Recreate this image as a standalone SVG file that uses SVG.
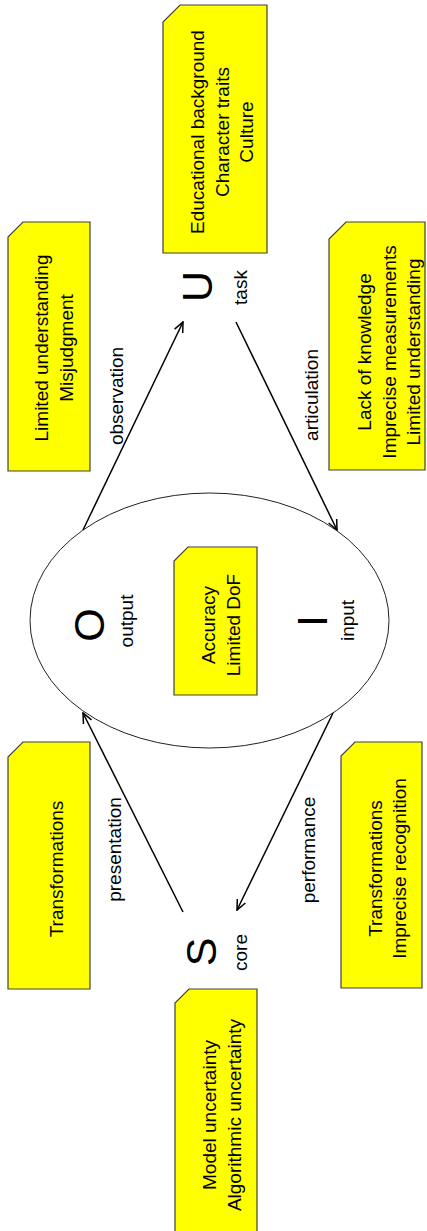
<svg xmlns="http://www.w3.org/2000/svg" width="427" height="1231" viewBox="0 0 427 1231">
  <defs>
    <style>
      .box { fill: #ffff00; stroke: #404040; stroke-width: 1.2; }
      .t { font-family: "Liberation Sans", Arial, sans-serif; font-size: 19px; fill: #000; text-anchor: middle; }
      .big { font-family: "Liberation Sans", Arial, sans-serif; font-size: 43px; fill: #000; text-anchor: middle; }
      .edge { fill: none; stroke: #000; stroke-width: 1.5; }
      .ring { fill: #fff; stroke: #222; stroke-width: 1; }
    </style>
    <marker id="arrow" viewBox="0 0 12 12" refX="11" refY="6" markerWidth="12" markerHeight="12" markerUnits="userSpaceOnUse" orient="auto">
      <path d="M1,1.5 L11,6 L1,10.5" fill="none" stroke="#000" stroke-width="1.5"/>
    </marker>
  </defs>

  <rect width="427" height="1231" fill="#fff"/>

  <!-- system ellipse holding output and input -->
  <g id="system">
    <ellipse class="ring" cx="209.5" cy="620.5" rx="179.5" ry="127.5"/>
  </g>

  <!-- connectors -->
  <g id="connectors">
    <line class="edge" x1="83" y1="530" x2="183" y2="322" marker-end="url(#arrow)"/>
    <line class="edge" x1="236" y1="322" x2="337" y2="530" marker-end="url(#arrow)"/>
    <line class="edge" x1="183" y1="912" x2="83" y2="713" marker-end="url(#arrow)"/>
    <line class="edge" x1="333" y1="713" x2="237" y2="910" marker-end="url(#arrow)"/>
    <text class="t" transform="translate(123,396) rotate(-90)">observation</text>
    <text class="t" transform="translate(318,395) rotate(-90)">articulation</text>
    <text class="t" transform="translate(121,849.5) rotate(-90)">presentation</text>
    <text class="t" transform="translate(315,850) rotate(-90)">performance</text>
  </g>

  <!-- main nodes -->
  <g id="node-user">
    <text class="big" transform="translate(212,286.5) rotate(-90)">U</text>
    <text class="t" transform="translate(247,287.5) rotate(-90)">task</text>
  </g>
  <g id="node-output">
    <text class="big" transform="translate(104,625) rotate(-90)">O</text>
    <text class="t" transform="translate(133,621) rotate(-90)">output</text>
  </g>
  <g id="node-input">
    <text class="big" transform="translate(327,621) rotate(-90)">I</text>
    <text class="t" transform="translate(354,620.5) rotate(-90)">input</text>
  </g>
  <g id="node-system">
    <text class="big" transform="translate(216,952) rotate(-90)">S</text>
    <text class="t" transform="translate(247,952.5) rotate(-90)">core</text>
  </g>

  <!-- uncertainty notes -->
  <g id="note-user">
    <polygon class="box" points="180,5 267,5 267,253 163,253 163,22"/>
    <text class="t" transform="translate(204,132) rotate(-90)">Educational background</text>
    <text class="t" transform="translate(228.5,132) rotate(-90)">Character traits</text>
    <text class="t" transform="translate(253,132) rotate(-90)">Culture</text>
  </g>
  <g id="note-observation">
    <polygon class="box" points="23,222 90,222 90,471 8,471 8,237"/>
    <text class="t" transform="translate(48,348) rotate(-90)">Limited understanding</text>
    <text class="t" transform="translate(73,348) rotate(-90)">Misjudgment</text>
  </g>
  <g id="note-articulation">
    <polygon class="box" points="346,222 425,222 425,470 329,470 329,239"/>
    <text class="t" transform="translate(371,352) rotate(-90)">Lack of knowledge</text>
    <text class="t" transform="translate(395.5,352) rotate(-90)">Imprecise measurements</text>
    <text class="t" transform="translate(420,352) rotate(-90)">Limited understanding</text>
  </g>
  <g id="note-system">
    <polygon class="box" points="188,547 257,547 257,695 174,695 174,561"/>
    <text class="t" transform="translate(215,625) rotate(-90)">Accuracy</text>
    <text class="t" transform="translate(240,625) rotate(-90)">Limited DoF</text>
  </g>
  <g id="note-presentation">
    <polygon class="box" points="23,742 90,742 90,989 8,989 8,757"/>
    <text class="t" transform="translate(63,869) rotate(-90)">Transformations</text>
  </g>
  <g id="note-performance">
    <polygon class="box" points="355,742 422,742 422,988 341,988 341,756"/>
    <text class="t" transform="translate(382,868.5) rotate(-90)">Transformations</text>
    <text class="t" transform="translate(406,868.5) rotate(-90)">Imprecise recognition</text>
  </g>
  <g id="note-core">
    <polygon class="box" points="189,989 257,989 257,1236 175,1236 175,1003"/>
    <text class="t" transform="translate(215.5,1115) rotate(-90)">Model uncertainty</text>
    <text class="t" transform="translate(240.5,1115) rotate(-90)">Algorithmic uncertainty</text>
  </g>
</svg>
